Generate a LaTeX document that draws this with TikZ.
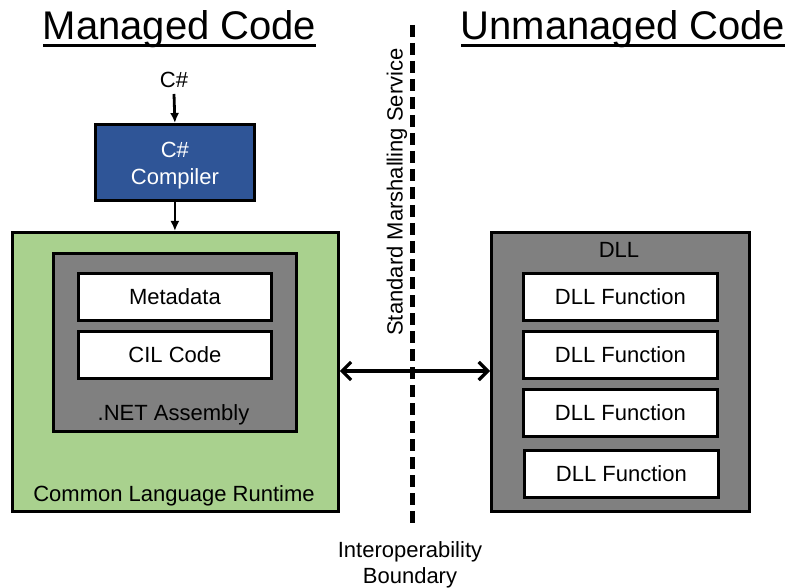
\documentclass[tikz,border=0pt]{standalone}
\usepackage{fontspec}
\setmainfont{Liberation Sans}
\usetikzlibrary{arrows.meta}
\definecolor{clrgreen}{HTML}{A9D18E}
\definecolor{asmgray}{HTML}{808080}
\definecolor{compblue}{HTML}{2F5597}
\tikzset{
  box/.style={draw=black, line width=2.8pt, anchor=north west, inner sep=0pt},
  whitebox/.style={box, fill=white, minimum width=193pt, minimum height=47pt},
  lbl/.style={font=\fontsize{22}{26}\selectfont, inner sep=0pt},
  title/.style={font=\fontsize{40}{44}\selectfont, inner sep=0pt},
  arr/.style={line width=2.8pt, -{Latex[length=10pt,width=9pt]}},
}
\begin{document}
\begin{tikzpicture}[x=1pt,y=-1pt]
\useasboundingbox (0,0) rectangle (787,588);
% titles
\node[title, anchor=base] (mt) at (179.5,40) {Managed Code};
\draw[line width=3pt] (43,46) -- (316,46);
\node[title, anchor=base] (ut) at (623,40) {Unmanaged Code};
\draw[line width=3pt] (461,46) -- (785,46);
% boundary
\coordinate (btop) at (412,25);
\coordinate (bbot) at (412,524);
\draw[line width=5pt, dash pattern=on 12pt off 6pt] (btop) -- (bbot);
\node[lbl, rotate=90] (sms) at (397,192) {Standard Marshalling Service};
\node[lbl, align=center] (ib) at (410,565) {Interoperability\\Boundary};
% C# and compiler
\node[lbl] (cs) at (174,80) {C\#};
\node[box, fill=compblue, minimum width=159pt, minimum height=76pt] (comp) at (94,123) {};
\node[lbl, text=white, align=center, font=\fontsize{22}{27}\selectfont] at ([yshift=-3pt]comp.center) {C\#\\Compiler};
% CLR
\node[box, fill=clrgreen, minimum width=326pt, minimum height=279pt] (clr) at (11,231) {};
\node[lbl, anchor=base] at (174,501) {Common Language Runtime};
\node[box, fill=asmgray, minimum width=243pt, minimum height=178pt] (asm) at (52,252) {};
\node[lbl, anchor=base] at (173.5,420) {.NET Assembly};
\node[whitebox] (meta) at (77,272) {};
\node[lbl] at (meta.center) {Metadata};
\node[whitebox] (cil) at (77,330) {};
\node[lbl] at (cil.center) {CIL Code};
% DLL
\node[box, fill=asmgray, minimum width=258pt, minimum height=279pt] (dll) at (490,231) {};
\node[lbl, anchor=base] at (619,257) {DLL};
\node[whitebox, minimum width=194pt] (f1) at (522,272) {};
\node[lbl] at (f1.center) {DLL Function};
\node[whitebox, minimum width=194pt] (f2) at (522,330) {};
\node[lbl] at (f2.center) {DLL Function};
\node[whitebox, minimum width=194pt] (f3) at (522,388) {};
\node[lbl] at (f3.center) {DLL Function};
\node[whitebox, minimum width=194pt] (f4) at (523,449) {};
\node[lbl] at (f4.center) {DLL Function};
% arrows
\draw[arr] (cs.south) ++(0,6) -- (comp.north);
\draw[arr] (comp.south) -- (comp.south |- clr.north);
\draw[line width=3.2pt, {Straight Barb[length=9pt,width=18pt]}-{Straight Barb[length=9pt,width=18pt]}] (clr.east |- 0,371) -- (dll.west |- 0,371);
\end{tikzpicture}
\end{document}
